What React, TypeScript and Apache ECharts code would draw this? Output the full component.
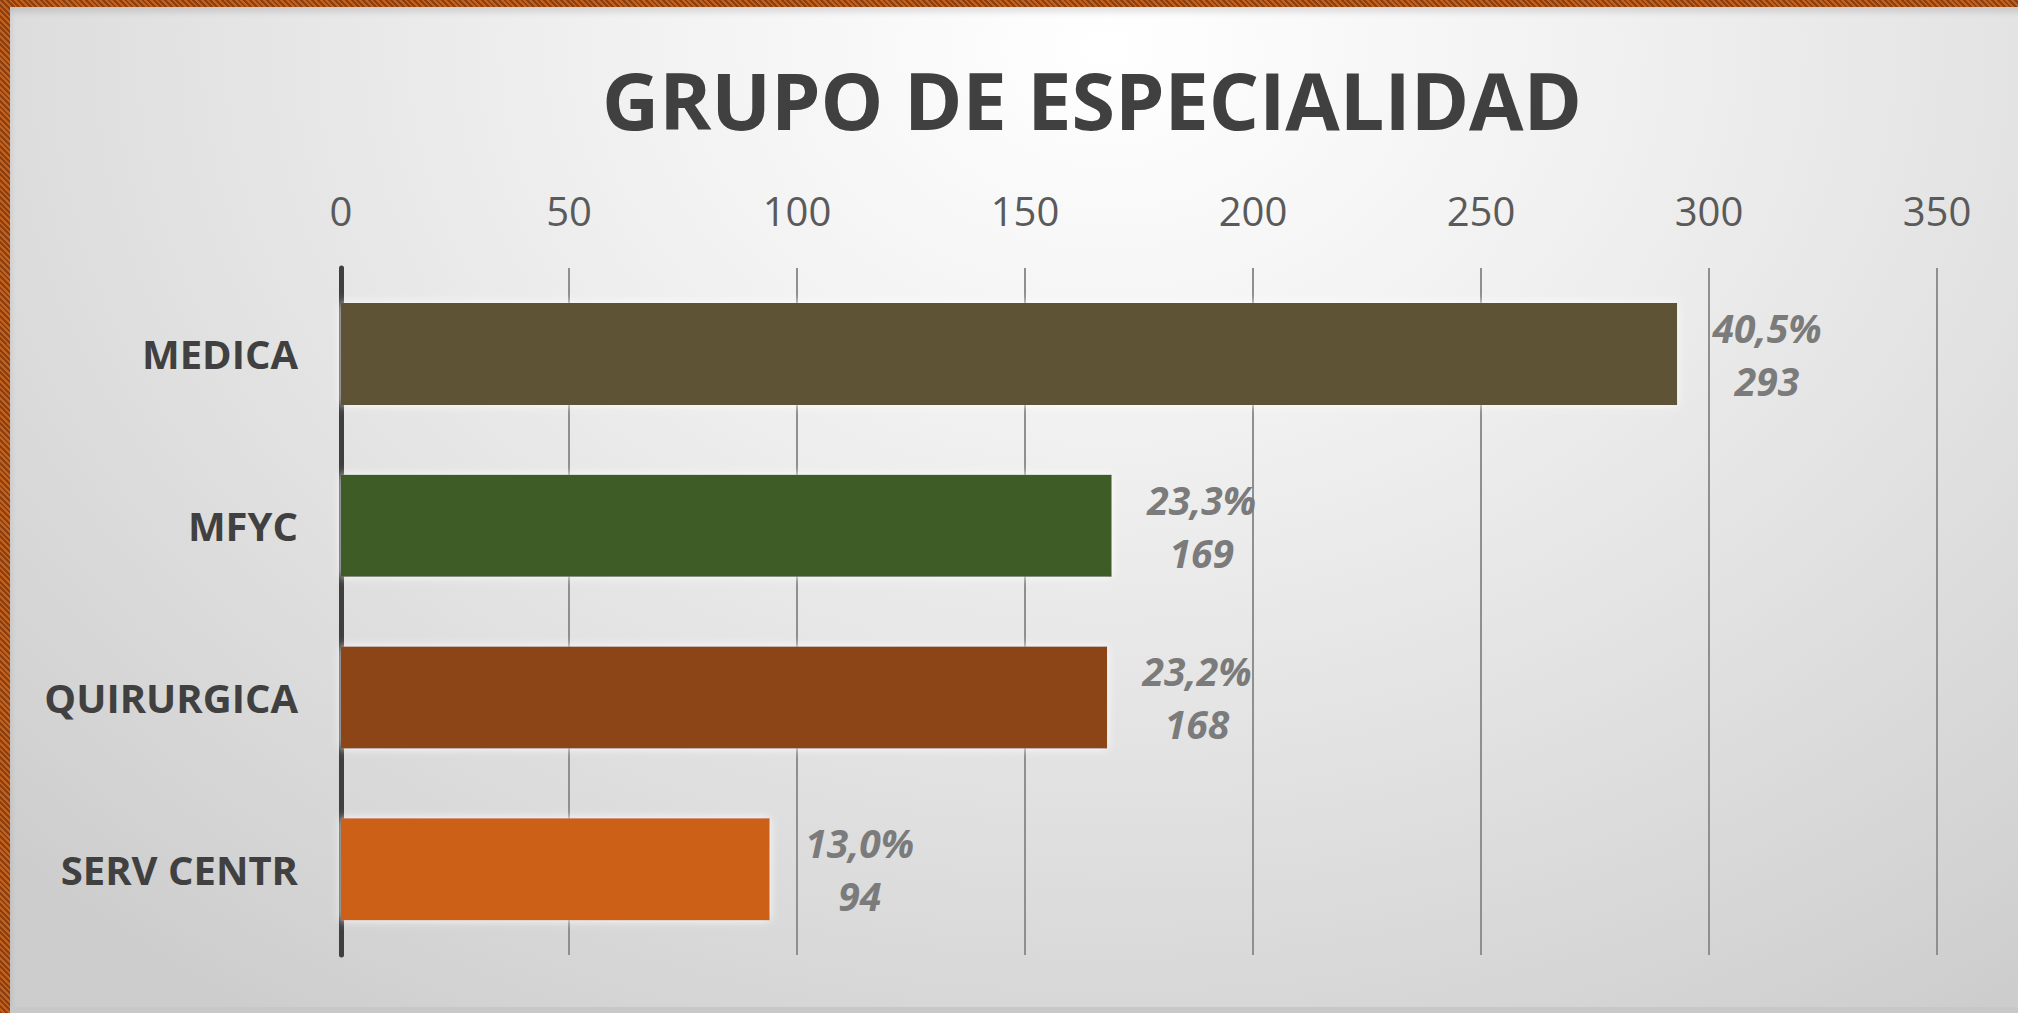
import React, { useEffect, useRef } from "react";
import * as echarts from "echarts";

const titleText = "GRUPO DE ESPECIALIDAD";
const categories = ["MEDICA", "MFYC", "QUIRURGICA", "SERV CENTR"];
const values = [293, 169, 168, 94];
const pctLabels = ["40,5%", "23,3%", "23,2%", "13,0%"];
const barColors = ["#5f5334", "#3e5b28", "#8b4413", "#cc6118"];
const axisMin = 0;
const axisMax = 350;
const axisStep = 50;

export default function App() {
  const ref = useRef<HTMLDivElement>(null);

  useEffect(() => {
    document.body.style.margin = "0";
    if (!ref.current) return;
    const chart = echarts.init(ref.current, null, { renderer: "svg", width: 2018, height: 1013 });
    chart.setOption({
      animation: false,
      backgroundColor: "transparent",
      graphic: [
        {
          type: "text",
          x: 1092,
          y: 99,
          style: {
            text: titleText,
            fontFamily: "Open Sans",
            fontWeight: "bold",
            fontSize: 79,
            fill: "#404040",
            textAlign: "center",
            textVerticalAlign: "middle",
          },
        },
      ],
      grid: { left: 341, right: 81, top: 268, bottom: 58, containLabel: false },
      xAxis: {
        type: "value",
        position: "top",
        min: axisMin,
        max: axisMax,
        interval: axisStep,
        axisLine: { show: false },
        axisTick: { show: false },
        axisLabel: {
          fontFamily: "Open Sans",
          fontSize: 40,
          color: "#5a5a5a",
          margin: 38,
        },
        splitLine: { show: true, lineStyle: { color: "#8f8f8f", width: 2 } },
      },
      yAxis: {
        type: "category",
        inverse: true,
        data: categories,
        axisLine: { show: true, lineStyle: { color: "#3f3f3f", width: 5 } },
        axisTick: { show: false },
        axisLabel: {
          fontFamily: "Open Sans",
          fontWeight: "bold",
          fontSize: 40,
          color: "#404040",
          margin: 43,
        },
        splitLine: { show: false },
      },
      series: [
        {
          type: "bar",
          barWidth: 102,
          data: values.map((v, i) => ({
            value: v,
            itemStyle: {
              color: barColors[i],
              shadowColor: "rgba(255,255,255,0.95)",
              shadowBlur: 10,
            },
          })),
          label: {
            show: true,
            position: "right",
            distance: 90,
            align: "center",
            verticalAlign: "middle",
            formatter: (p: any) => pctLabels[p.dataIndex] + "\n" + values[p.dataIndex],
            fontFamily: "Open Sans",
            fontStyle: "italic",
            fontWeight: "bold",
            fontSize: 39,
            lineHeight: 53,
            color: "#7b7b7b",
          },
        },
      ],
    });
    return () => chart.dispose();
  }, []);

  return (
    <div
      style={{
        position: "fixed",
        left: 0,
        top: 0,
        width: 2018,
        height: 1013,
        background:
          "repeating-linear-gradient(45deg, #8e3f10 0px, #8e3f10 2px, #c0601f 2px, #c0601f 4px)",
        overflow: "hidden",
      }}
    >
      <div
        style={{
          position: "absolute",
          left: 10,
          top: 7,
          width: 2030,
          height: 1020,
          background:
            "radial-gradient(ellipse 75% 115% at 54% 4%, #ffffff 0%, #f2f2f2 30%, #e3e3e3 60%, #d3d3d3 90%, #cdcdcd 100%)",
          boxShadow: "inset 0 5px 6px rgba(0,0,0,0.12)",
        }}
      />
      <div
        style={{
          position: "absolute",
          left: 10,
          top: 1007,
          width: 2030,
          height: 6,
          background: "#c8c8c8",
        }}
      />
      <div ref={ref} style={{ position: "absolute", left: 0, top: 0, width: 2018, height: 1013 }} />
    </div>
  );
}
